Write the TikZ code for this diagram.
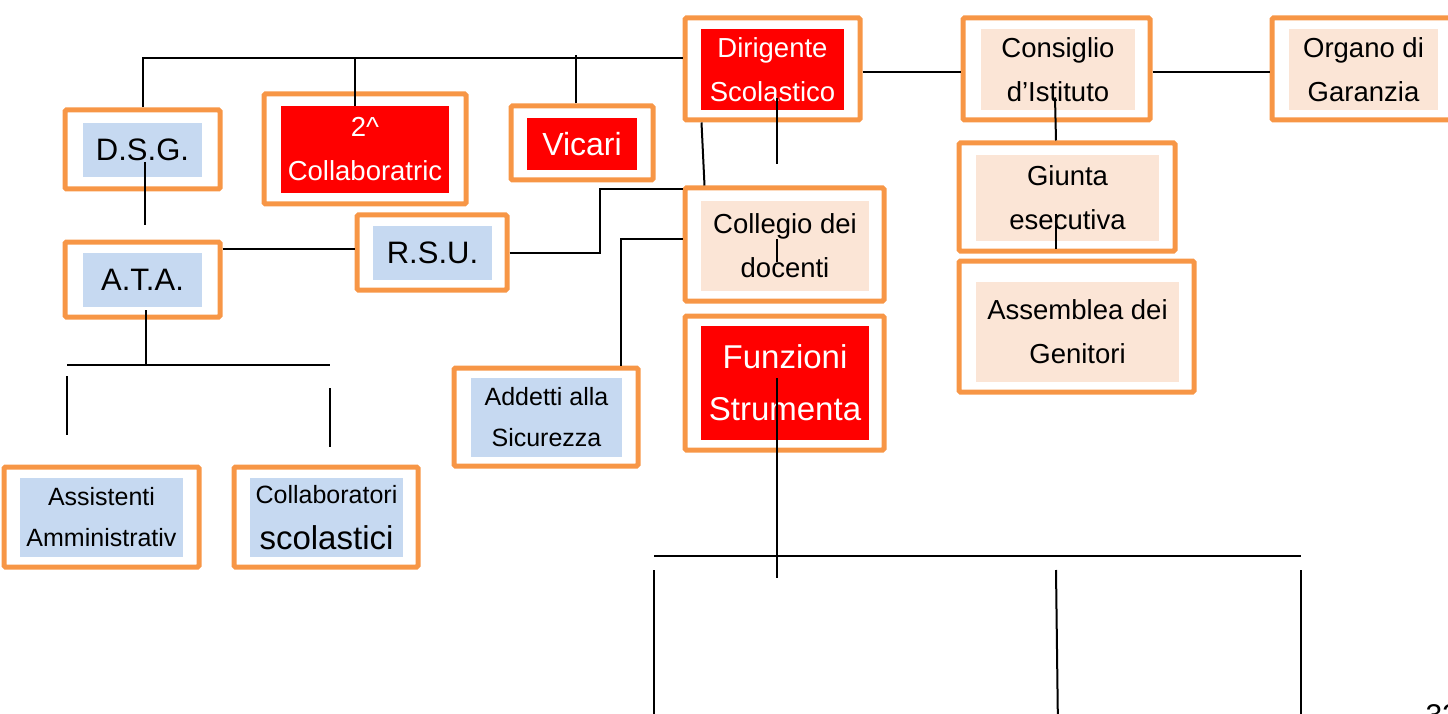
\documentclass[tikz,border=0pt]{standalone}
\usepackage{fontspec}
\setmainfont{Liberation Sans}
\usepackage{tikz}
\usetikzlibrary{calc}
\tikzstyle{unitframe} = [draw=SchoolOrange, line width=5pt, rounded corners=1.5pt, inner sep=0pt]
\tikzstyle{bluefill} = [fill=SchoolBlue, inner sep=0pt, align=center]
\tikzstyle{peachfill} = [fill=SchoolPeach, inner sep=0pt, align=center]
\tikzstyle{redfill} = [fill=SchoolRed, text=white, inner sep=0pt, align=center]
\tikzstyle{wire} = [draw=black, line width=2pt]
\tikzstyle{bigtext} = [font=\fontsize{31}{40}\selectfont]
\tikzstyle{midtext} = [font=\fontsize{27.5}{44}\selectfont]
\tikzstyle{smalltext} = [font=\fontsize{25}{41}\selectfont]
\definecolor{SchoolOrange}{HTML}{F79646}
\definecolor{SchoolBlue}{HTML}{C6D9F1}
\definecolor{SchoolPeach}{HTML}{FBE5D6}
\definecolor{SchoolRed}{HTML}{FF0000}

\begin{document}
\begin{tikzpicture}[x=1pt,y=-1pt]
	\useasboundingbox (0,0) rectangle (1448,714);
	\clip (0,0) rectangle (1448,714);

	% left side: staff
	\node[unitframe, minimum width=155pt, minimum height=79pt] (dsg) at (142.5,149.5) {};
	\node[bluefill, bigtext, minimum width=119pt, minimum height=54pt] (dsgin) at (142.5,150) {D.S.G.};
	\node[unitframe, minimum width=155pt, minimum height=75pt] (ata) at (142.5,279.5) {};
	\node[bluefill, bigtext, minimum width=119pt, minimum height=54pt] (atain) at (142.5,280) {A.T.A.};
	\node[unitframe, minimum width=150pt, minimum height=75pt] (rsu) at (432,252.5) {};
	\node[bluefill, bigtext, minimum width=119pt, minimum height=54pt] (rsuin) at (432.5,253) {R.S.U.};
	\node[unitframe, minimum width=195pt, minimum height=100pt] (assist) at (101.5,517) {};
	\node[bluefill, smalltext, minimum width=163pt, minimum height=79pt] (assistin) at (101.5,517.5) {Assistenti\\Amministrativ};
	\node[unitframe, minimum width=184pt, minimum height=100pt] (collab) at (326,517) {};
	\node[bluefill, font=\fontsize{25}{46}\selectfont, minimum width=153pt, minimum height=79pt] (collabin) at (326.5,517.5)
		{Collaboratori\\{\fontsize{33}{46}\selectfont scolastici}};
	\node[unitframe, minimum width=184pt, minimum height=98pt] (add) at (546,417) {};
	\node[bluefill, smalltext, minimum width=151pt, minimum height=79pt] (addin) at (546.5,417.5) {Addetti alla\\Sicurezza};

	% red units
	\node[unitframe, minimum width=202pt, minimum height=110pt] (coll2) at (365,149) {};
	\node[redfill, midtext, minimum width=168pt, minimum height=87pt] (coll2in) at (365,149.5) {2\textasciicircum\\Collaboratric};
	\node[unitframe, minimum width=142pt, minimum height=74pt] (vic) at (582,143) {};
	\node[redfill, font=\fontsize{32}{40}\selectfont, minimum width=110pt, minimum height=52pt] (vicin) at (582,144) {Vicari};
	\node[unitframe, minimum width=175pt, minimum height=102pt] (dir) at (772.5,69) {};
	\node[redfill, midtext, minimum width=143pt, minimum height=81pt] (dirin) at (772.5,69.5) {Dirigente\\Scolastico};
	\node[unitframe, minimum width=199pt, minimum height=134pt] (funz) at (784.5,383) {};
	\node[redfill, font=\fontsize{33}{52}\selectfont, minimum width=168pt, minimum height=114pt] (funzin) at (785,383) {Funzioni\\Strumenta};

	% collegial bodies
	\node[unitframe, minimum width=199pt, minimum height=113pt] (colleg) at (784.5,244.5) {};
	\node[peachfill, midtext, minimum width=168pt, minimum height=90pt] (collegin) at (785,246) {Collegio dei\\docenti};
	\node[unitframe, minimum width=187pt, minimum height=102pt] (cons) at (1056.5,69) {};
	\node[peachfill, midtext, minimum width=154pt, minimum height=81pt] (consin) at (1058,69.5) {Consiglio\\d’Istituto};
	\node[unitframe, minimum width=188pt, minimum height=102pt] (org) at (1366,69) {};
	\node[peachfill, midtext, minimum width=149pt, minimum height=81pt] (orgin) at (1363.5,69.5) {Organo di\\Garanzia};
	\node[unitframe, minimum width=216pt, minimum height=108pt] (giunta) at (1067,197) {};
	\node[peachfill, midtext, minimum width=183pt, minimum height=86pt] (giuntain) at (1067.5,198) {Giunta\\esecutiva};
	\node[unitframe, minimum width=235pt, minimum height=131pt] (assem) at (1076.5,326.5) {};
	\node[peachfill, midtext, minimum width=203pt, minimum height=100pt] (assemin) at (1077.5,332) {Assemblea dei\\Genitori};

	% connectors
	\draw[wire] (dsg.north) |- ([yshift=11pt]dir.west);
	\draw[wire] ([xshift=-10pt]coll2in.north) -- ++(0,-48);
	\draw[wire] ([xshift=-6pt]vic.north) -- ++(0,-48);
	\draw[wire] ([yshift=-3pt]dir.east) -- ([yshift=-3pt]cons.west);
	\draw[wire] ([yshift=-3pt]cons.east) -- ([yshift=-3pt]org.west);
	\draw[wire] ([xshift=4.5pt,yshift=-29pt]dirin.center) -- ++(0,66);
	\draw[wire] ([xshift=19pt]dir.south west) -- ([xshift=22pt]colleg.north west);
	\draw[wire] (rsu.east) -- ++(90,0) |- ([yshift=-4pt]colleg.north west);
	\draw[wire] ([xshift=75pt]add.north) |- ([yshift=6pt]colleg.west);
	\draw[wire] ([xshift=-8pt,yshift=7pt]collegin.center) -- ++(0,23);
	\draw[wire] ([xshift=-3pt,yshift=-28pt]consin.center) -- ([xshift=-11pt]giunta.north);
	\draw[wire] ([xshift=-11.5pt,yshift=-16pt]giuntain.center) -- ++(0,35);
	\draw[wire] ([xshift=2.5pt,yshift=-12pt]dsgin.center) -- ([xshift=2.5pt,yshift=14pt]ata.north);
	\draw[wire] ([yshift=30.5pt]ata.east) -- ([yshift=30.5pt]ata.east -| rsu.west);
	\draw[wire] ([xshift=3.5pt,yshift=-30pt]atain.center) -- ++(0,55) coordinate (atafork);
	\draw[wire] ([xshift=-79pt]atafork) -- ([xshift=184pt]atafork);
	\draw[wire] ([xshift=-34.5pt,yshift=30pt]assist.north) -- ++(0,-59);
	\draw[wire] ([xshift=4pt,yshift=18pt]collab.north) -- ++(0,-59);
	\draw[wire] ([xshift=-8pt,yshift=5pt]funzin.center) -- ++(0,200);
	\coordinate (forkleft) at (654,556);
	\coordinate (forkright) at (1301,556);
	\draw[wire] (forkleft) -- (forkright);
	\draw[wire] ([yshift=-14pt]forkleft) -- ++(0,160);
	\draw[wire] (1056,570) -- (1058,730);
	\draw[wire] ([yshift=-14pt]forkright) -- ++(0,160);

	\node[anchor=base west, font=\fontsize{30}{36}\selectfont] (pagenum) at (1422,725) {32};
\end{tikzpicture}
\end{document}
